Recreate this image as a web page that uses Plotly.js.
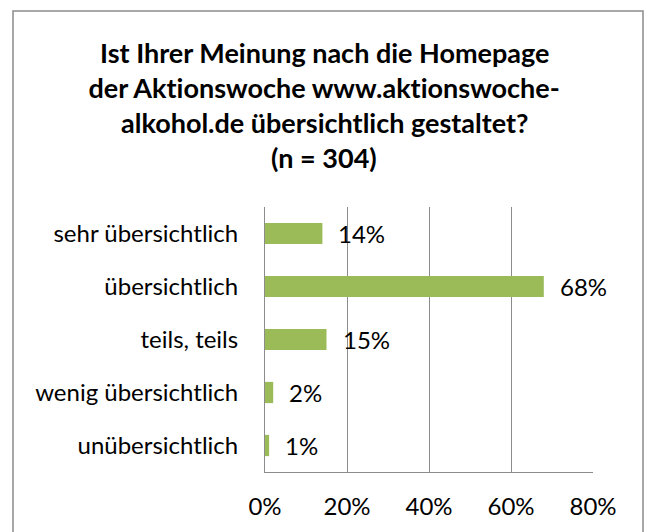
<!DOCTYPE html>
<html>
<head>
<meta charset="utf-8">
<script src="https://cdn.plot.ly/plotly-3.0.1.min.js"></script>
<style>
html,body{margin:0;padding:0;background:#fff;}
#chart{width:652px;height:532px;}
#chart text{font-variant-ligatures:none;font-feature-settings:"liga" 0, "clig" 0;}
</style>
</head>
<body>
<div id="chart"></div>
<script>
const categories = ["sehr übersichtlich", "übersichtlich", "teils, teils", "wenig übersichtlich", "unübersichtlich"];
const values = [14, 68, 15, 2, 1];
const valueLabels = ["14%", "68%", "15%", "2%", "1%"];
const tickValues = [0, 20, 40, 60, 80];
const tickLabels = ["0%", "20%", "40%", "60%", "80%"];
const titleLines = ["Ist Ihrer Meinung nach die Homepage", "der Aktionswoche www.aktionswoche-", "alkohol.de übersichtlich gestaltet?", "(n = 304)"];

const FONT = "Lato, 'Noto Sans', sans-serif";
const L = 265, R = 593, T = 207, B = 472;
const pxX = px => (px - L) / (R - L);
const pxY = py => (B - py) / (B - T);

const trace = {
  type: "bar",
  orientation: "h",
  y: categories,
  x: values,
  marker: {color: "#9BBB59", line: {width: 0}},
  hoverinfo: "skip"
};

const annotations = values.map((v, i) => ({
  x: v, y: categories[i], xref: "x", yref: "y",
  text: valueLabels[i], showarrow: false,
  xanchor: "left", yanchor: "middle", xshift: 14, yshift: 0,
  font: {family: FONT, size: 24, color: "#000"}
}));

const titleY = [53, 87, 122, 157];
titleLines.forEach((t, i) => annotations.push({
  x: pxX(324), y: pxY(titleY[i]), xref: "paper", yref: "paper",
  text: "<b>" + t + "</b>", showarrow: false,
  xanchor: "center", yanchor: "middle",
  font: {family: FONT, size: 27, color: "#000"}
}));

const layout = {
  width: 652, height: 532,
  margin: {l: L, r: 652 - R, t: T, b: 532 - B, pad: 0},
  paper_bgcolor: "#fff", plot_bgcolor: "#fff",
  showlegend: false,
  bargap: 0.6,
  xaxis: {
    range: [0, 80], tickvals: tickValues, ticktext: tickLabels,
    showgrid: true, gridcolor: "#8C8C8C", gridwidth: 1,
    zeroline: false, showline: true, linecolor: "#8C8C8C", linewidth: 1,
    ticks: "", ticklabelstandoff: 13,
    tickfont: {family: FONT, size: 24, color: "#000"},
    fixedrange: true
  },
  yaxis: {
    autorange: "reversed", type: "category",
    showgrid: false, zeroline: false,
    showline: true, linecolor: "#8C8C8C", linewidth: 1,
    ticks: "", ticklabelstandoff: 21,
    tickfont: {family: FONT, size: 24, color: "#000"},
    fixedrange: true
  },
  annotations: annotations,
  shapes: [{
    type: "rect", xref: "paper", yref: "paper",
    x0: pxX(13), x1: pxX(643),
    y0: pxY(545), y1: pxY(11),
    line: {color: "#8C8C8C", width: 1.5}, fillcolor: "rgba(0,0,0,0)", layer: "below"
  }]
};

Plotly.newPlot("chart", [trace], layout, {displayModeBar: false, staticPlot: true});
</script>
</body>
</html>
